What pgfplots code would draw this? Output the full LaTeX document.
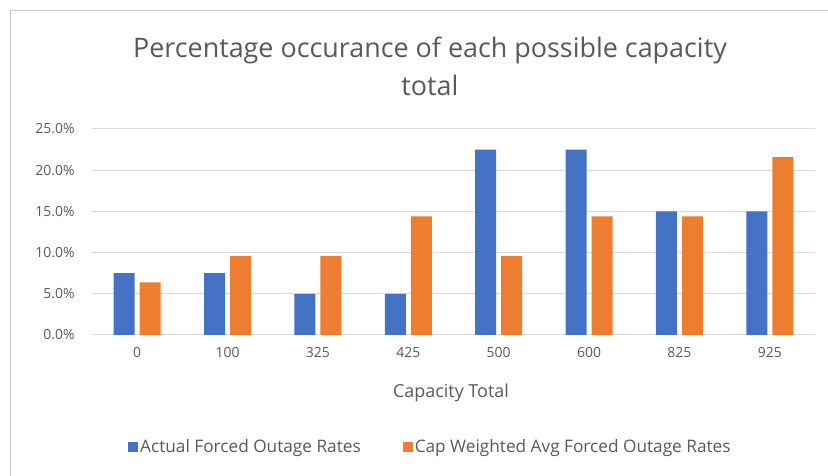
\documentclass[border=0pt]{standalone}
\usepackage{pgfplots}
\pgfplotsset{compat=1.18}
\usepackage{fontspec}
\setmainfont{Open Sans}
\definecolor{blueS}{HTML}{4472C4}
\definecolor{orangeS}{HTML}{ED7D31}
\definecolor{txt}{HTML}{595959}
\definecolor{gridc}{HTML}{D9D9D9}
\definecolor{framec}{HTML}{C8C8C8}
\begin{document}
\begin{tikzpicture}[x=1bp,y=1bp]
\useasboundingbox (0,0) rectangle (828,476);
\draw[framec, line width=1bp] (10,0) -- (10,465) -- (828,465);
\node[txt, align=center, font=\fontsize{27}{38}\selectfont] at (430,410) {Percentage occurance of each possible capacity\\total};
\node[txt, font=\fontsize{18}{20}\selectfont] at (451,83) {Capacity Total};
\begin{axis}[
  at={(92bp,141bp)}, anchor=south west, scale only axis,
  width=723bp, height=206bp,
  ymin=0, ymax=25, xmin=-0.5, xmax=7.5,
  ybar=5bp, bar width=21bp,
  xtick=data, xticklabels={0,100,325,425,500,600,825,925},
  ytick={0,5,10,15,20,25},
  yticklabel={\pgfmathprintnumber[fixed,fixed zerofill,precision=1]{\tick}\%},
  /pgf/number format/assume math mode=true,
  ymajorgrids, grid style={gridc, line width=1bp},
  axis line style={draw=none},
  major tick length=0pt,
  tick label style={txt, font=\fontsize{14}{16}\selectfont},
  yticklabel style={xshift=-14bp},
  xticklabel style={yshift=-9bp},
  legend style={at={(0.468,-0.544)}, anchor=center, legend columns=2, draw=none, fill=none,
    font=\fontsize{17.3}{19}\selectfont, text=txt,
    /tikz/every even column/.append style={column sep=40bp}},
]
\addplot[fill=blueS, draw=none, legend image code/.code={\fill[blueS] (-4bp,-5bp) rectangle (6bp,5bp);}] coordinates {(0,7.5) (1,7.5) (2,5) (3,5) (4,22.5) (5,22.5) (6,15) (7,15)};
\addlegendentry{Actual Forced Outage Rates}
\addplot[fill=orangeS, draw=none, legend image code/.code={\fill[orangeS] (-4bp,-5bp) rectangle (6bp,5bp);}] coordinates {(0,6.4) (1,9.6) (2,9.6) (3,14.4) (4,9.6) (5,14.4) (6,14.4) (7,21.6)};
\addlegendentry{Cap Weighted Avg Forced Outage Rates}
\end{axis}
\end{tikzpicture}
\end{document}
